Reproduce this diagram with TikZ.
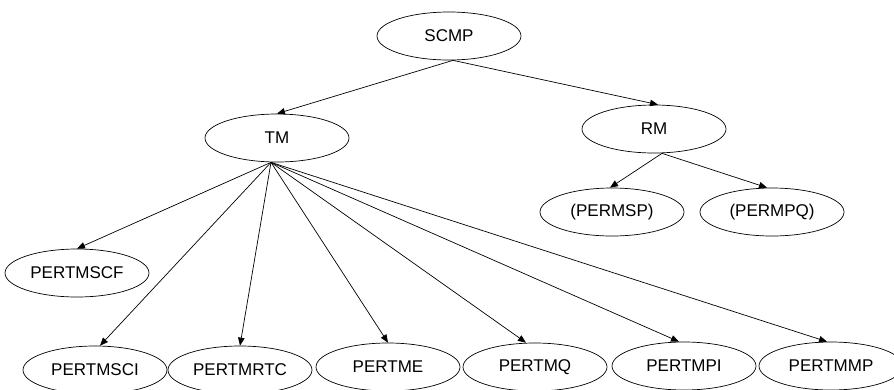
\documentclass[tikz,border=0pt]{standalone}
\usepackage{fontspec}
\setmainfont{Liberation Sans}
\usetikzlibrary{shapes.geometric,arrows.meta}
\begin{document}
\begin{tikzpicture}[x=1pt,y=-1pt,
  nd/.style={draw,ellipse,line width=0.7pt,inner sep=0pt,minimum width=144pt,minimum height=48pt,font=\fontsize{17}{20}\selectfont},
  ar/.style={draw,line width=0.7pt,-{Triangle[length=8pt,width=6.5pt]}}]
\useasboundingbox (0,0) rectangle (894,389);
\node[nd] (scmp) at (449,36) {SCMP};
\node[nd] (tm) at (277,138) {TM};
\node[nd] (rm) at (654,129) {RM};
\node[nd] (permsp) at (612,212) {(PERMSP)};
\node[nd] (permpq) at (772,212) {(PERMPQ)};
\node[nd] (scf) at (77,273) {PERTMSCF};
\node[nd] (sci) at (95,370) {PERTMSCI};
\node[nd] (rtc) at (240,370) {PERTMRTC};
\node[nd] (me) at (388,367) {PERTME};
\node[nd] (mq) at (535,367) {PERTMQ};
\node[nd] (mpi) at (684,366) {PERTMPI};
\node[nd] (mmp) at (831,366) {PERTMMP};
\coordinate (s0) at ([xshift=4pt]scmp.south);
\coordinate (t0) at ([xshift=-6pt]tm.south);
\coordinate (r0) at ([xshift=8pt]rm.south);
\draw[ar] (s0) -- (tm.north);
\draw[ar] (s0) -- ([xshift=4pt]rm.north);
\draw[ar] (r0) -- ([xshift=-2pt]permsp.north);
\draw[ar] (r0) -- ([xshift=-5pt]permpq.north);
\draw[ar] (t0) -- (scf.north);
\draw[ar] (t0) -- ([xshift=5pt]sci.north);
\draw[ar] (t0) -- (rtc.north);
\draw[ar] (t0) -- (me.north);
\draw[ar] (t0) -- ([xshift=-9pt]mq.north);
\draw[ar] (t0) -- ([xshift=-5pt]mpi.north);
\draw[ar] (t0) -- ([xshift=-4pt]mmp.north);
\end{tikzpicture}
\end{document}
